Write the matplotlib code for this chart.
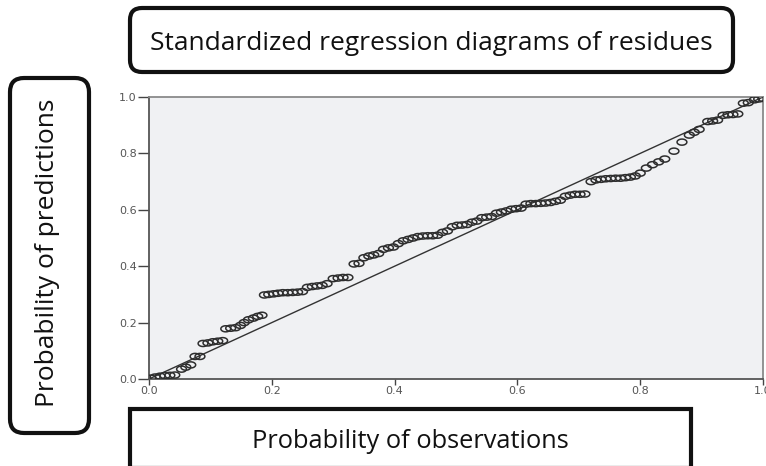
import matplotlib
matplotlib.use("Agg")
import matplotlib.pyplot as plt
import numpy as np
from matplotlib.patches import FancyBboxPatch
from matplotlib.path import Path

# observed cumulative probability (x) vs expected / predicted (y)
obs = [0.003, 0.010, 0.018, 0.026, 0.034, 0.042,
       0.053, 0.060, 0.068,
       0.075, 0.083,
       0.088, 0.096, 0.104, 0.112, 0.120,
       0.125, 0.133, 0.141, 0.149,
       0.155, 0.162, 0.170, 0.177, 0.184,
       0.188, 0.195, 0.203, 0.210, 0.218, 0.226, 0.234, 0.242, 0.250,
       0.258, 0.266, 0.274, 0.282, 0.290,
       0.300, 0.308, 0.316, 0.324,
       0.334, 0.342,
       0.350, 0.358, 0.366, 0.374,
       0.382, 0.390, 0.398,
       0.406, 0.414, 0.422, 0.430,
       0.438, 0.446, 0.454, 0.462, 0.470,
       0.478, 0.486,
       0.494, 0.502, 0.510, 0.518,
       0.526, 0.534,
       0.542, 0.550, 0.558,
       0.566, 0.574, 0.582,
       0.590, 0.598, 0.606,
       0.614, 0.622, 0.630, 0.638, 0.646, 0.654,
       0.662, 0.670,
       0.678, 0.686, 0.694, 0.702, 0.710,
       0.720, 0.728, 0.736, 0.744, 0.752, 0.760, 0.768, 0.776, 0.784, 0.792,
       0.800, 0.810, 0.820, 0.830, 0.840,
       0.855, 0.868,
       0.880, 0.888, 0.896,
       0.910, 0.918, 0.926,
       0.935, 0.943, 0.951, 0.959,
       0.968, 0.976,
       0.986, 0.993, 1.000]
pred = [0.003, 0.007, 0.010, 0.012, 0.013, 0.014,
        0.035, 0.042, 0.050,
        0.080, 0.080,
        0.126, 0.128, 0.132, 0.134, 0.136,
        0.178, 0.180, 0.182, 0.190,
        0.200, 0.210, 0.216, 0.222, 0.226,
        0.298, 0.300, 0.302, 0.304, 0.306, 0.306, 0.307, 0.308, 0.310,
        0.325, 0.328, 0.330, 0.332, 0.338,
        0.356, 0.358, 0.360, 0.360,
        0.408, 0.410,
        0.430, 0.436, 0.440, 0.445,
        0.460, 0.465, 0.468,
        0.480, 0.490, 0.495, 0.500,
        0.505, 0.507, 0.508, 0.508, 0.510,
        0.520, 0.525,
        0.540, 0.545, 0.546, 0.548,
        0.556, 0.560,
        0.572, 0.574, 0.576,
        0.588, 0.592, 0.596,
        0.602, 0.604, 0.606,
        0.620, 0.622, 0.622, 0.623, 0.624, 0.626,
        0.630, 0.634,
        0.648, 0.652, 0.655, 0.655, 0.656,
        0.700, 0.706, 0.708, 0.710, 0.711, 0.712, 0.712, 0.714, 0.716, 0.720,
        0.730, 0.748, 0.760, 0.770, 0.780,
        0.808, 0.840,
        0.865, 0.875, 0.885,
        0.913, 0.915, 0.918,
        0.935, 0.937, 0.938, 0.940,
        0.978, 0.980,
        0.990, 0.993, 0.995]
ref_line = [0.0, 1.0]
ticks = [0.0, 0.2, 0.4, 0.6, 0.8, 1.0]
tick_labels = ["0.0", "0.2", "0.4", "0.6", "0.8", "1.0"]

title = "Standardized regression diagrams of residues"
xlab = "Probability of observations"
ylab = "Probability of predictions"

W, H = 766, 466
fig = plt.figure(figsize=(W / 100, H / 100), dpi=100)

# axes placed in pixel terms
l, r, t, b = 149, 763, 97, 379
ax = fig.add_axes([l / W, 1 - b / H, (r - l) / W, (b - t) / H])
ax.set_facecolor("#f0f1f3")

# flat ellipse marker like the SPSS output
th = np.linspace(0, 2 * np.pi, 40)
ell = Path(np.column_stack([np.cos(th), 0.62 * np.sin(th)]), closed=True)

ax.plot(ref_line, ref_line, color="#333333", lw=1.0, zorder=2)
ax.scatter(obs, pred, marker=ell, s=50, facecolors="none",
           edgecolors="#2e2e2e", linewidths=1.1, zorder=3)

ax.set_xlim(0, 1)
ax.set_ylim(0, 1)
ax.set_xticks(ticks)
ax.set_xticklabels(tick_labels)
ax.set_yticks(ticks)
ax.set_yticklabels(tick_labels)
ax.tick_params(axis="x", length=4, width=1, color="#444444", pad=1,
               labelsize=8, labelcolor="#555555")
ax.tick_params(axis="y", length=8, width=1, color="#444444", pad=1,
               labelsize=8, labelcolor="#555555")
for s in ["left", "bottom"]:
    ax.spines[s].set_color("#555555")
    ax.spines[s].set_linewidth(1.3)
for s in ["top", "right"]:
    ax.spines[s].set_color("#8a8a8a")
    ax.spines[s].set_linewidth(1.3)


def box(x0, y0, x1, y1, rounding):
    # pixel box (top-left origin) -> inches
    style = "round,pad=0,rounding_size=%g" % (rounding / 100) if rounding else "square,pad=0"
    p = FancyBboxPatch((x0 / 100, (H - y1) / 100), (x1 - x0) / 100, (y1 - y0) / 100,
                       boxstyle=style, transform=fig.dpi_scale_trans,
                       facecolor="white", edgecolor="#111111", lw=3)
    fig.add_artist(p)


font = "Open Sans"
box(130, 8, 733, 72, 12)
fig.text(431 / W, 1 - 44 / H, title, ha="center", va="center",
         fontsize=19, family=font, color="#111111")

box(10, 78, 89, 433, 14)
fig.text(48 / W, 1 - 253 / H, ylab, ha="center", va="center", rotation=90,
         fontsize=19, family=font, color="#111111")

box(130, 409, 691, 468, 0)
fig.text(410 / W, 1 - 442 / H, xlab, ha="center", va="center",
         fontsize=18.3, family=font, color="#111111")

fig.savefig("out.png", dpi=100)
